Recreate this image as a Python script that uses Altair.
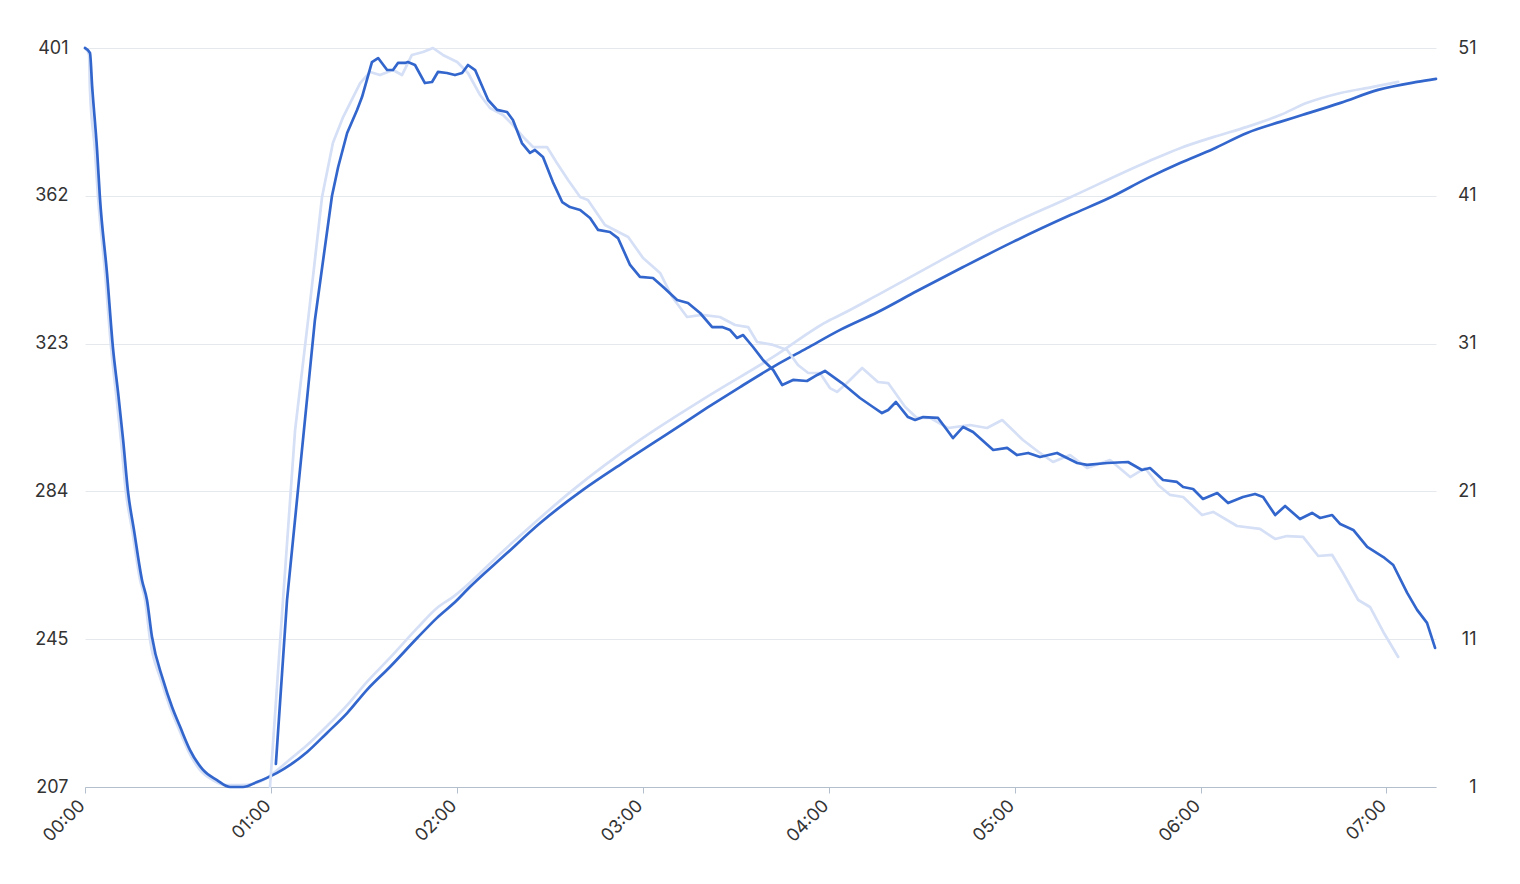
import altair as alt
import pandas as pd

# ---- data (time in minutes since 00:00) ----
# Series A (left axis), current period
cur_a_t = [0, 1.6, 2.3, 3.9, 4.8, 7.1, 9.0, 10.7, 12.3, 13.9, 15.8, 18.4, 20.0, 21.6, 25.2, 28.1,
           30.7, 33.9, 38.1, 42.6, 46.8, 51.0, 55.5, 58.7, 62.0, 66.2, 71.7, 78.1, 84.6, 91.0,
           98.4, 107.2, 113.6, 120.1, 122.6, 136.2, 146.9, 160.7, 173.6, 189.8, 200.7, 211.4,
           222.1, 233.0, 243.7, 255.9, 268.5, 283.4, 299.5, 318.2, 330.5, 343.1, 353.4, 364.1,
           375.0, 385.7, 392.8, 405.2, 417.3, 429.9, 436.0]
cur_a_v = [401, 399.7, 391.0, 374.2, 361.9, 341.9, 322.5, 310.4, 298.1, 284.4, 274.5, 261.3, 256.1,
           246.5, 235.1, 228.0, 222.8, 216.7, 211.5, 208.8, 207.0, 207.0, 208.3, 209.4, 210.7,
           212.8, 216.2, 221.2, 226.4, 232.5, 238.5, 246.1, 251.4, 256.1, 258.2, 268.4, 276.3,
           285.0, 292.1, 300.7, 306.5, 312.0, 317.3, 322.2, 327.0, 331.7, 337.2, 343.5, 350.1,
           357.2, 361.6, 366.9, 370.8, 374.5, 378.7, 381.6, 383.4, 386.6, 390.0, 392.1, 392.9]

# Series A (left axis), previous period
prev_a_t = [0, 1.3, 1.6, 3.2, 4.2, 6.5, 8.4, 10.0, 11.6, 13.2, 15.2, 17.8, 19.4, 21.0, 24.5, 27.4,
            30.0, 33.2, 37.1, 41.3, 45.2, 50.0, 54.9, 58.1, 61.3, 66.2, 71.7, 78.1, 84.6, 91.0,
            98.4, 107.2, 113.6, 118.8, 136.2, 157.5, 179.1, 200.7, 222.1, 240.4, 243.7, 255.9,
            274.7, 293.4, 318.2, 343.1, 353.4, 364.1, 375.0, 385.7, 394.4, 405.2, 415.7, 423.8]
prev_a_v = [401, 399.2, 390.0, 374.2, 361.9, 341.9, 322.5, 310.4, 298.1, 284.4, 274.5, 261.3, 256.1,
            245.6, 235.1, 228.0, 222.8, 216.7, 211.5, 208.8, 207.5, 207.5, 208.0, 209.1, 210.9,
            214.3, 218.0, 223.0, 228.5, 234.6, 240.9, 248.7, 254.0, 256.9, 269.9, 285.0, 298.1,
            309.4, 319.9, 329.6, 330.9, 336.2, 344.6, 352.7, 361.9, 371.2, 374.7, 377.6, 380.3,
            383.4, 386.6, 389.2, 390.8, 392.1]

# Series B (right axis), current period
cur_b_t = [61.6, 65.2, 74.2, 79.7, 81.7, 84.6, 87.8, 89.4, 92.6, 94.6, 97.5, 99.4, 101.0, 103.3,
           104.2, 106.5, 109.7, 112.0, 113.9, 116.8, 119.4, 121.7, 123.6, 125.9, 130.1, 133.0,
           136.2, 138.1, 141.0, 143.6, 145.2, 147.8, 151.0, 154.0, 156.5, 159.8, 163.0, 165.6,
           169.4, 172.0, 175.9, 179.1, 183.3, 186.6, 191.1, 194.6, 198.5, 202.4, 205.6, 208.2,
           210.4, 212.4, 215.6, 218.8, 222.1, 225.0, 228.5, 233.0, 236.3, 238.8, 244.3, 250.1,
           254.3, 257.2, 259.2, 261.7, 265.6, 267.9, 270.5, 275.3, 278.2, 280.1, 283.4, 286.6,
           293.1, 297.6, 300.8, 304.4, 308.2, 313.7, 320.2, 323.4, 329.9, 336.6, 341.1, 343.7,
           347.9, 352.4, 354.4, 357.6, 360.8, 365.4, 368.9, 373.7, 377.6, 380.2, 384.1, 387.3,
           392.1, 396.0, 398.6, 402.5, 405.1, 409.3, 413.8, 419.0, 422.2, 426.7, 429.9, 433.1,
           435.7]
cur_b_v = [2.56, 13.65, 32.60, 40.99, 42.95, 45.25, 46.81, 47.68, 50.05, 50.32, 49.51, 49.51, 49.99,
           49.99, 50.05, 49.85, 48.63, 48.70, 49.38, 49.31, 49.17, 49.31, 49.85, 49.51, 47.48,
           46.81, 46.67, 46.13, 44.57, 43.90, 44.10, 43.63, 41.93, 40.58, 40.24, 40.04, 39.50,
           38.69, 38.55, 38.14, 36.32, 35.51, 35.44, 34.83, 33.95, 33.75, 33.07, 32.12, 32.12,
           31.92, 31.38, 31.58, 30.77, 29.89, 29.21, 28.20, 28.54, 28.47, 28.88, 29.15, 28.33,
           27.32, 26.71, 26.30, 26.51, 27.05, 26.03, 25.83, 26.03, 25.97, 25.15, 24.61, 25.36,
           25.02, 23.80, 23.94, 23.46, 23.60, 23.33, 23.60, 22.92, 22.79, 22.92, 22.99, 22.45,
           22.58, 21.77, 21.64, 21.30, 21.16, 20.49, 20.89, 20.21, 20.62, 20.82, 20.62, 19.40,
           20.01, 19.13, 19.54, 19.20, 19.40, 18.79, 18.39, 17.24, 16.56, 16.02, 14.13, 12.98,
           12.10, 10.41]

# Series B (right axis), previous period
prev_b_t = [59.7, 63.9, 67.8, 72.0, 76.5, 80.0, 83.3, 88.8, 92.0, 95.2, 99.4, 102.3, 105.5, 109.1,
            112.3, 115.5, 120.1, 123.6, 127.5, 130.7, 134.9, 138.1, 141.4, 144.6, 149.1, 152.3,
            155.9, 159.8, 162.3, 167.8, 175.3, 180.1, 185.6, 189.5, 194.3, 199.1, 204.9, 209.8,
            214.0, 216.9, 222.1, 226.6, 230.1, 233.4, 237.2, 240.4, 242.7, 245.9, 250.8, 255.9,
            259.2, 264.7, 268.5, 272.7, 278.5, 285.6, 291.1, 296.0, 302.7, 308.2, 312.4, 317.9,
            323.4, 330.8, 337.3, 342.1, 346.3, 350.2, 354.4, 360.5, 364.1, 371.8, 379.2, 384.1,
            387.9, 393.1, 398.0, 402.5, 406.0, 410.9, 414.7, 419.0, 423.8]
prev_b_v = [1.00, 13.65, 25.15, 32.60, 40.92, 44.57, 46.33, 48.63, 49.38, 49.17, 49.51, 49.17, 50.53,
            50.73, 51.00, 50.53, 50.05, 49.31, 47.82, 46.94, 46.47, 45.79, 44.98, 44.30, 44.30,
            43.22, 42.07, 40.92, 40.72, 39.02, 38.21, 36.79, 35.78, 34.15, 32.80, 32.94, 32.80,
            32.26, 32.12, 31.11, 30.91, 30.57, 29.55, 29.01, 29.01, 27.99, 27.73, 28.33, 29.35,
            28.40, 28.33, 26.71, 25.97, 25.97, 25.29, 25.49, 25.29, 25.83, 24.48, 23.60, 22.99,
            23.46, 22.58, 23.12, 21.97, 22.58, 21.43, 20.76, 20.62, 19.40, 19.61, 18.66, 18.46,
            17.78, 17.98, 17.92, 16.63, 16.70, 15.48, 13.65, 13.18, 11.49, 9.80]

x_ticks = [0, 60, 120, 180, 240, 300, 360, 420]
left_ticks = [207, 245.8, 284.6, 323.4, 362.2, 401]
right_ticks = [1, 11, 21, 31, 41, 51]

DARK = "#3366cc"
LIGHT = "#d5dff5"
FONT = "Inter"
TXT = "#333333"

df_ca = pd.DataFrame({"t": cur_a_t, "v": cur_a_v})
df_pa = pd.DataFrame({"t": prev_a_t, "v": prev_a_v})
df_cb = pd.DataFrame({"t": cur_b_t, "v": cur_b_v})
df_pb = pd.DataFrame({"t": prev_b_t, "v": prev_b_v})


def x_enc():
    return alt.X(
        "t:Q",
        scale=alt.Scale(domain=[0, 436], nice=False, zero=False),
        axis=alt.Axis(
            values=x_ticks,
            labelExpr="'0' + floor(datum.value / 60) + ':00'",
            labelAngle=-45,
            labelAlign="right",
            labelBaseline="middle",
            labelOffset=-3,
            grid=False,
            domainColor="#b3bfcc",
            tickColor="#b3bfcc",
            tickSize=6,
            labelPadding=10,
            title=None,
        ),
    )


def y_left():
    return alt.Y(
        "v:Q",
        scale=alt.Scale(domain=[207, 401], nice=False, zero=False),
        axis=alt.Axis(
            values=left_ticks,
            labelExpr="floor(datum.value)",
            orient="left",
            grid=True,
            gridColor="#e5e9ee",
            gridWidth=1,
            domain=False,
            ticks=False,
            tickSize=0,
            labelPadding=17,
            title=None,
        ),
    )


def y_right():
    return alt.Y(
        "v:Q",
        scale=alt.Scale(domain=[1, 51], nice=False, zero=False),
        axis=alt.Axis(
            values=right_ticks,
            orient="right",
            grid=False,
            domain=False,
            ticks=False,
            tickSize=0,
            labelAlign="right",
            labelPadding=40,
            title=None,
        ),
    )


line_kw = dict(strokeWidth=2.7, strokeJoin="round", strokeCap="round")

pa = alt.Chart(df_pa).mark_line(color=LIGHT, interpolate="monotone", **line_kw).encode(
    x=x_enc(), y=y_left())
ca = alt.Chart(df_ca).mark_line(color=DARK, interpolate="monotone", **line_kw).encode(
    x=x_enc(), y=y_left())
pb = alt.Chart(df_pb).mark_line(color=LIGHT, **line_kw).encode(
    x=x_enc(), y=y_right())
cb = alt.Chart(df_cb).mark_line(color=DARK, **line_kw).encode(
    x=x_enc(), y=y_right())

left_layer = alt.layer(pa, ca)
right_layer = alt.layer(pb, cb)

chart = (
    alt.layer(left_layer, right_layer)
    .resolve_scale(y="independent")
    .properties(
        width=1351,
        height=739,
        padding={"left": 77, "top": 40, "right": 70, "bottom": 80},
        autosize=alt.AutoSizeParams(type="none"),
        background="white",
    )
    .configure_view(stroke=None)
    .configure_axis(labelFont=FONT, labelFontSize=18, labelColor=TXT)
)

chart.save("out.html", embed_options={"renderer": "svg", "actions": False})
